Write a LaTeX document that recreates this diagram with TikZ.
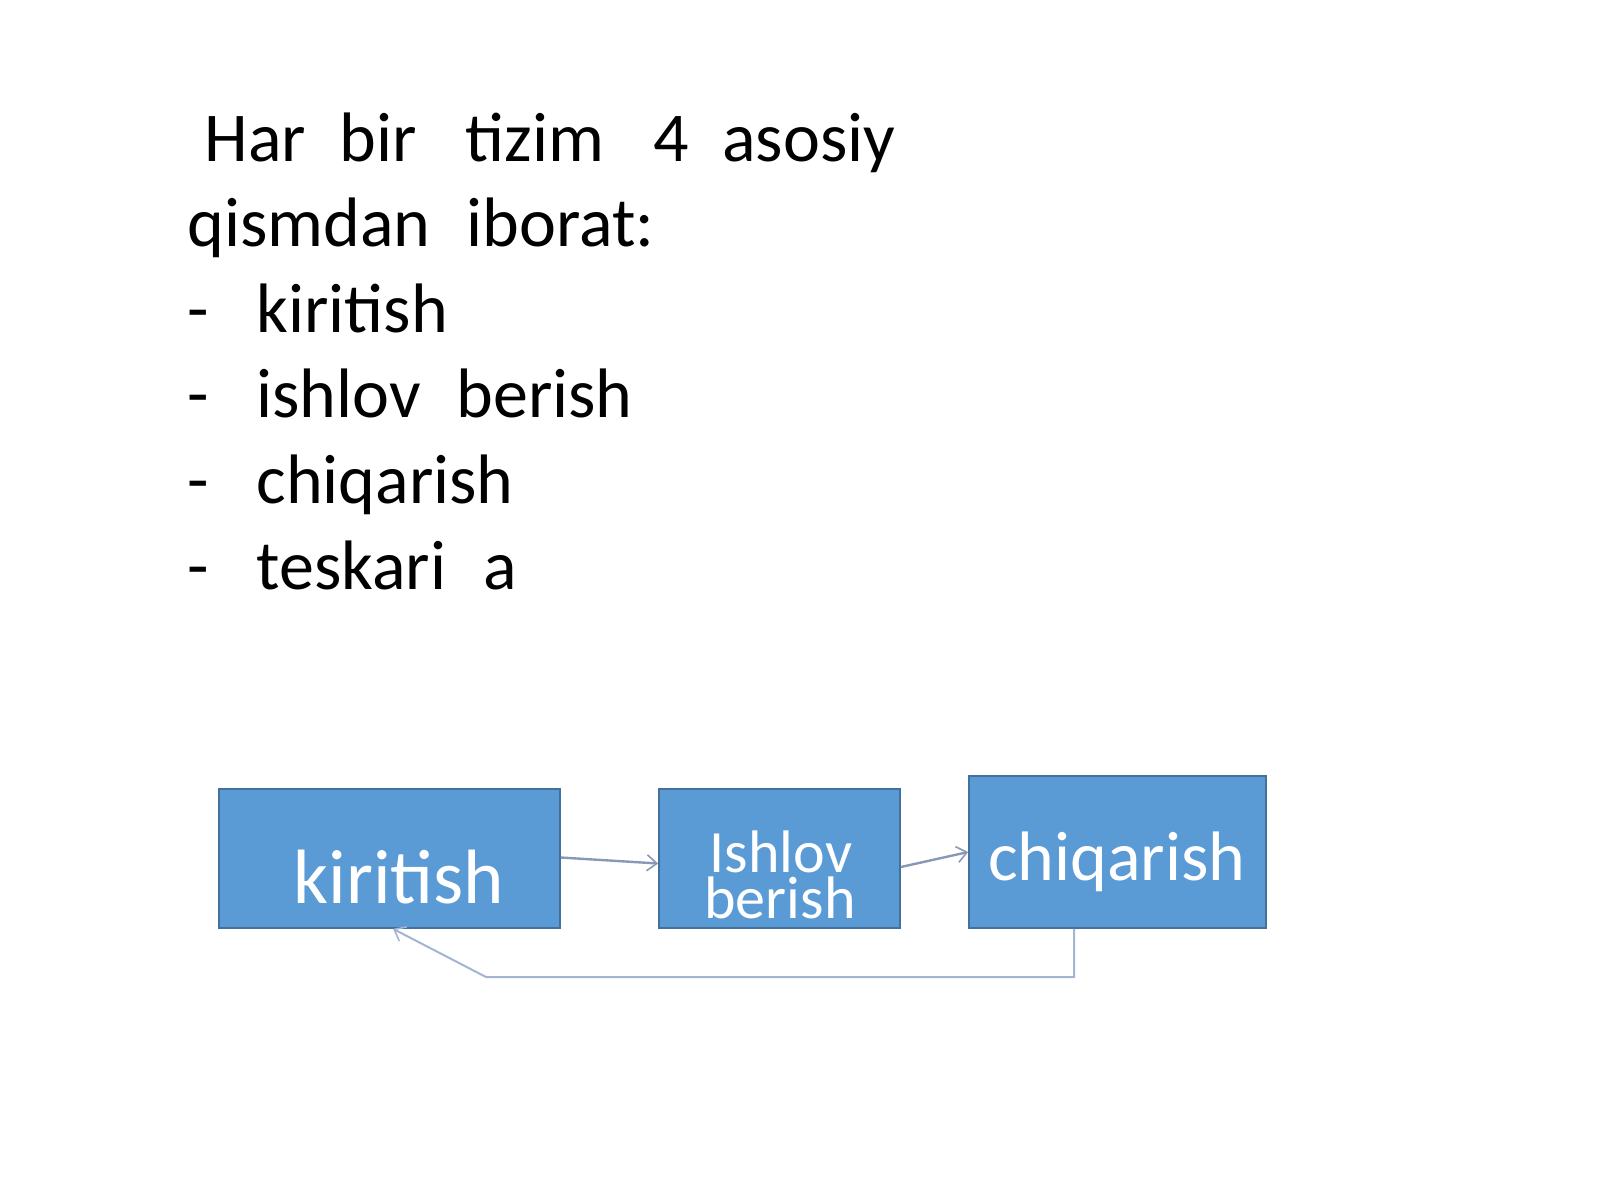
\documentclass[tikz,border=0pt]{standalone}
\usepackage{fontspec}
\setmainfont{Carlito}
\usetikzlibrary{arrows.meta}
\definecolor{boxfill}{HTML}{5B9BD5}
\definecolor{boxline}{HTML}{41719C}
\definecolor{arrcol}{HTML}{8799B5}
\definecolor{fbcol}{HTML}{A3B5D0}
\begin{document}
\begin{tikzpicture}[x=0.5pt,y=-0.5pt,
  txt/.style={inner sep=0pt, anchor=base west, font=\fontsize{35pt}{42pt}\selectfont, text=black},
  box/.style={draw=boxline, line width=0.8pt, fill=boxfill, inner sep=0pt},
  boxtxt/.style={inner sep=0pt, anchor=base, text=white},
  arr/.style={draw=arrcol, line width=1.2pt, -{Straight Barb[length=5pt,width=8pt,line width=0.8pt]}},
  fb/.style={draw=fbcol, line width=1pt, -{Straight Barb[length=5pt,width=8pt,line width=0.8pt]}}
]
\useasboundingbox (0,0) rectangle (1600,1200);
% heading text
\node[txt] (w1) at (204,161) {Har};
\node[txt] (w2) at (339,161) {bir};
\node[txt] (w3) at (465,161) {tizim};
\node[txt] (w4) at (653,161) {4};
\node[txt] (w5) at (722,161) {asosiy};
\node[txt] (w6) at (187,246) {qismdan};
\node[txt] (w7) at (466,246) {iborat:};
\node[txt] (d1) at (187,332) {-};
\node[txt] (i1) at (256,332) {kiritish};
\node[txt] (d2) at (187,417) {-};
\node[txt] (i2a) at (256,417) {ishlov};
\node[txt] (i2b) at (456,417) {berish};
\node[txt] (d3) at (187,503) {-};
\node[txt] (i3) at (256,503) {chiqarish};
\node[txt] (d4) at (187,589) {-};
\node[txt] (i4a) at (256,589) {teskari};
\node[txt] (i4b) at (483,589) {a};
% boxes
\node[box, minimum width=170.5pt, minimum height=69.5pt] (kir) at (389.5,858.5) {};
\node[box, minimum width=120.5pt, minimum height=69.5pt] (ish) at (779.5,858.5) {};
\node[box, minimum width=148.5pt, minimum height=76pt] (chq) at (1117.5,852) {};
\node[boxtxt, font=\fontsize{38.5pt}{44pt}\selectfont] (kirt) at (399,903) {kiritish};
\node[boxtxt, font=\fontsize{30pt}{34pt}\selectfont] (isht1) at (781,872) {Ishlov};
\node[boxtxt, font=\fontsize{30pt}{34pt}\selectfont] (isht2) at (780,918) {berish};
\node[boxtxt, font=\fontsize{35pt}{40pt}\selectfont] (chqt) at (1117,880) {chiqarish};
% connectors
\draw[arr] ([yshift=0.5pt]kir.east) -- ([yshift=-2.5pt]ish.west);
\draw[arr] ([yshift=-4.25pt]ish.east) -- (chq.west);
\coordinate (fb1) at (1074,977);
\coordinate (fb2) at (486,977);
\draw[fb] ([xshift=-21.75pt]chq.south) -- (fb1) -- (fb2) -- ([xshift=1.75pt]kir.south);
\end{tikzpicture}
\end{document}
